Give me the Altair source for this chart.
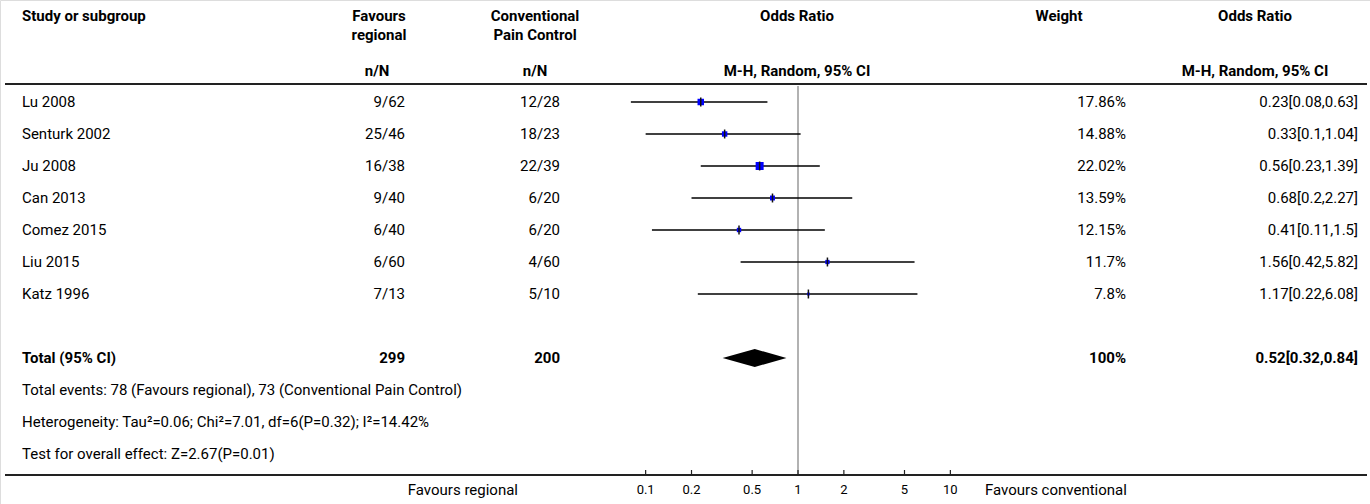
import altair as alt
import pandas as pd

# ---------------- data ----------------
studies = ["Lu 2008", "Senturk 2002", "Ju 2008", "Can 2013", "Comez 2015", "Liu 2015", "Katz 1996"]
regional = ["9/62", "25/46", "16/38", "9/40", "6/40", "6/60", "7/13"]
conventional = ["12/28", "18/23", "22/39", "6/20", "6/20", "4/60", "5/10"]
weights = [17.86, 14.88, 22.02, 13.59, 12.15, 11.7, 7.8]
or_est = [0.23, 0.33, 0.56, 0.68, 0.41, 1.56, 1.17]
or_lo = [0.08, 0.1, 0.23, 0.2, 0.11, 0.42, 0.22]
or_hi = [0.63, 1.04, 1.39, 2.27, 1.5, 5.82, 6.08]

total_label = "Total (95% CI)"
total_regional = "299"
total_conventional = "200"
total_weight = "100%"
total_est, total_lo, total_hi = 0.52, 0.32, 0.84

footer_lines = [
    "Total events: 78 (Favours regional), 73 (Conventional Pain Control)",
    "Heterogeneity: Tau\u00b2=0.06; Chi\u00b2=7.01, df=6(P=0.32); I\u00b2=14.42%",
    "Test for overall effect: Z=2.67(P=0.01)",
]
tick_values = [0.1, 0.2, 0.5, 1, 2, 5, 10]
tick_labels = ["0.1", "0.2", "0.5", "1", "2", "5", "10"]
favours_left = "Favours regional"
favours_right = "Favours conventional"

# ---------------- layout ----------------
FONT = "Roboto"
FS = 15
xscale = alt.Scale(type="log", domain=[0.0732, 13.66], range=[625, 971])
yscale = alt.Scale(domain=[0, 10], range=[102, 422], nice=False, zero=False)


def X(f):
    return alt.X(f, type="quantitative", scale=xscale, axis=None)


def Y(f):
    return alt.Y(f, type="quantitative", scale=yscale, axis=None)


def text_layer(df, x, align, bold=False, size=FS):
    return alt.Chart(df).mark_text(
        align=align, baseline="middle", font=FONT, fontSize=size,
        fontWeight="bold" if bold else "normal", color="black"
    ).encode(x=alt.value(x), y=Y("row"), text=alt.Text("label:N"))


n = len(studies)
rows = list(range(n))
total_row = 8
footer_rows = [9, 10, 11]

studies_df = pd.DataFrame({
    "row": rows, "study": studies, "reg": regional, "conv": conventional,
    "w": weights, "est": or_est, "lo": or_lo, "hi": or_hi,
    "wtxt": [f"{w}%" for w in weights],
    "ortxt": [f"{e}[{l},{h}]" for e, l, h in zip(or_est, or_lo, or_hi)],
})


def col(series):
    return pd.DataFrame({"row": rows, "label": list(series)})


def one(label, row):
    return pd.DataFrame({"row": [row], "label": [label]})


layers = []

# header texts
H1, H2, H3 = -2.7, -2.1, -0.98
layers += [
    text_layer(one("Study or subgroup", H1), 22, "left", True),
    text_layer(one("Favours", H1), 379, "center", True),
    text_layer(one("regional", H2), 379, "center", True),
    text_layer(one("n/N", H3), 377, "center", True),
    text_layer(one("Conventional", H1), 535, "center", True),
    text_layer(one("Pain Control", H2), 535, "center", True),
    text_layer(one("n/N", H3), 535, "center", True),
    text_layer(one("Odds Ratio", H1), 797, "center", True),
    text_layer(one("M-H, Random, 95% CI", H3), 797, "center", True),
    text_layer(one("Weight", H1), 1059, "center", True),
    text_layer(one("Odds Ratio", H1), 1255, "center", True),
    text_layer(one("M-H, Random, 95% CI", H3), 1255, "center", True),
]

# horizontal separators
lines_df = pd.DataFrame({"row": [-0.5625, 11.656]})
layers.append(
    alt.Chart(lines_df).mark_rule(color="#222", strokeWidth=2).encode(
        x=alt.value(5), x2=alt.value(1367), y=Y("row"))
)

# vertical line of no effect
vline_df = pd.DataFrame({"x": [1], "ya": [-0.5], "yb": [11.656]})
layers.append(
    alt.Chart(vline_df).mark_rule(color="#999", strokeWidth=1.5).encode(
        x=X("x"), y=Y("ya"), y2="yb")
)

# study rows text
layers += [
    text_layer(col(studies), 22, "left"),
    text_layer(col(regional), 405, "right"),
    text_layer(col(conventional), 560, "right"),
    text_layer(col(studies_df["wtxt"]), 1126, "right"),
    text_layer(col(studies_df["ortxt"]), 1358, "right"),
]

# CI lines, squares, ticks
base = alt.Chart(studies_df)
layers.append(base.mark_rule(color="black", strokeWidth=1.5).encode(x=X("lo"), x2="hi", y=Y("row")))
layers.append(base.mark_square(color="#0000ff", opacity=1).encode(
    x=X("est"), y=Y("row"),
    size=alt.Size("w:Q", scale=alt.Scale(type="pow", exponent=2, domain=[0, 22.02], range=[0, 64]), legend=None)))
layers.append(base.transform_calculate(ya="datum.row - 0.14", yb="datum.row + 0.14").mark_rule(
    color="#111", strokeWidth=1.5).encode(x=X("est"), y=Y("ya:Q"), y2="yb:Q"))

# total row
layers += [
    text_layer(one(total_label, total_row), 22, "left", True),
    text_layer(one(total_regional, total_row), 405, "right", True),
    text_layer(one(total_conventional, total_row), 560, "right", True),
    text_layer(one(total_weight, total_row), 1126, "right", True),
    text_layer(one(f"{total_est}[{total_lo},{total_hi}]", total_row), 1358, "right", True),
]
HALF = 0.28
diamond_df = pd.DataFrame({
    "x": [total_lo, total_est, total_hi],
    "ya": [total_row, total_row - HALF, total_row],
    "yb": [total_row, total_row + HALF, total_row],
})
layers.append(alt.Chart(diamond_df).mark_area(color="black", opacity=1).encode(
    x=X("x"), y=Y("ya"), y2="yb"))

# footer
footer_df = pd.DataFrame({"row": footer_rows, "label": footer_lines})
layers.append(text_layer(footer_df, 22, "left"))

# axis: domain line, ticks, labels
axis_df = pd.DataFrame({"x": [0.0732], "x2": [13.66], "row": [11.656]})
layers.append(alt.Chart(axis_df).mark_rule(color="#222", strokeWidth=2).encode(
    x=X("x"), x2="x2", y=Y("row")))
ticks_df = pd.DataFrame({"x": tick_values, "label": tick_labels, "ya": 11.5, "yb": 11.656})
layers.append(alt.Chart(ticks_df).mark_rule(color="#222", strokeWidth=1.2).encode(
    x=X("x"), y=Y("ya"), y2="yb"))
layers.append(alt.Chart(ticks_df).transform_calculate(row="12.125").mark_text(
    font=FONT, fontSize=13, baseline="middle", align="center", color="black").encode(
    x=X("x"), y=Y("row:Q"), text="label:N"))
layers.append(text_layer(one(favours_left, 12.125), 518, "right"))
layers.append(text_layer(one(favours_right, 12.125), 985, "left"))

chart = alt.layer(*layers).properties(
    width=1370, height=504,
    autosize=alt.AutoSizeParams(type="none"),
    padding=0,
).configure_view(stroke=None).configure(background="white")

chart.save("out.html", embed_options={"renderer": "svg", "actions": False})
